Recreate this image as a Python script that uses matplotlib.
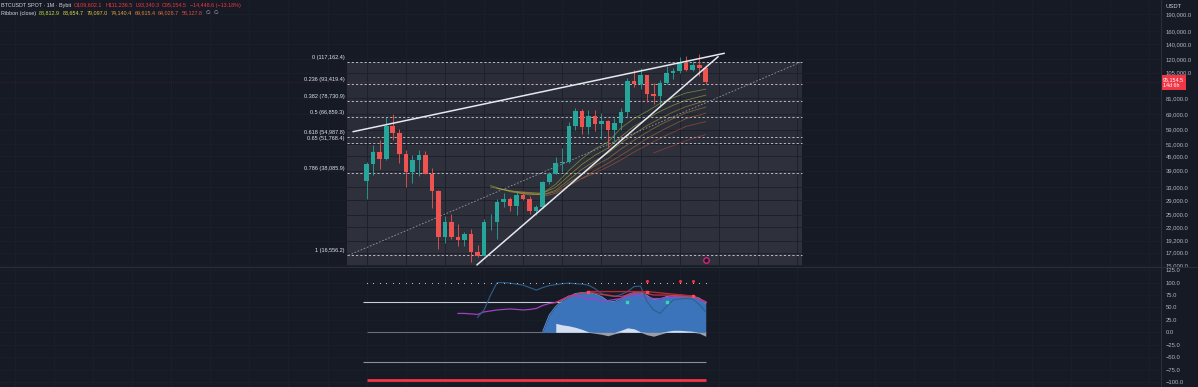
import matplotlib.pyplot as plt
from matplotlib.lines import Line2D
from matplotlib.ticker import NullLocator

plt.rcParams['font.family'] = ['Liberation Sans', 'DejaVu Sans']

# ---- BTCUSDT monthly candles, Jul 2021 .. Nov 2025 (index 0..52)
opens = [35000, 41500, 47100, 43800, 61300, 57000, 46200, 38500, 43200, 45500,
         37600, 31800, 19900, 23300, 20000, 19400, 20500, 17200, 16500, 23130,
         23150, 28500, 29200, 27200, 30500, 29200, 26000, 27000, 34600, 37700,
         42300, 42600, 61100, 71300, 60600, 67500, 62700, 64600, 59000, 63300,
         70200, 96400, 93400, 102400, 84300, 82500, 94200, 104600, 107100, 115700,
         108200, 114000, 109602.1]
highs = [42400, 50500, 52900, 67000, 69000, 59100, 47900, 45800, 48200, 47400,
         40000, 31900, 24700, 25200, 22800, 21000, 21500, 18400, 23900, 25200,
         29200, 31000, 29800, 31400, 31800, 30200, 27500, 35000, 38400, 44700,
         48900, 64000, 73800, 72800, 71900, 71900, 70000, 65100, 66500, 73600,
         99800, 108300, 109600, 102700, 95000, 97900, 111900, 110500, 123200, 124400,
         117900, 126200, 111236.5]
lows = [29300, 37300, 39600, 43300, 53300, 42000, 32900, 34300, 37100, 37500,
        26700, 17600, 18800, 19500, 18200, 18100, 15500, 16300, 16500, 21400,
        19600, 26900, 25900, 24800, 28900, 25200, 24900, 26600, 34100, 37600,
        38500, 41900, 59000, 56500, 56600, 58400, 53500, 49000, 52600, 58900,
        66800, 90500, 89200, 78200, 76600, 74400, 93400, 98200, 105100, 107300,
        107300, 102000, 93340.3]
closes = [41500, 47100, 43800, 61300, 57000, 46200, 38500, 43200, 45500, 37600,
          31800, 19900, 23300, 20000, 19400, 20500, 17200, 16500, 23130, 23150,
          28500, 29200, 27200, 30500, 29200, 26000, 27000, 34600, 37700, 42300,
          42600, 61100, 71300, 60600, 67500, 62700, 64600, 59000, 63300, 70200,
          96400, 93400, 102400, 84300, 82500, 94200, 104600, 107100, 115700, 108200,
          114000, 109603.1, 95154.5]
last_price = 95154.5
countdown = "14d 6h"

# ---- fib retracement (levels, prices as labelled), anchored by candle index
fib_ratios = ["0", "0.236", "0.382", "0.5", "0.618", "0.65", "0.786", "1"]
fib_prices = [117162.4, 93419.4, 78730.9, 66859.3, 54987.8, 51768.4, 38085.9, 16556.2]
fib_start, fib_end = -3.0, 66.8

# ---- trend lines (index, price)
wedge_top = [(-2.1, 57800), (54.85, 127700)]
wedge_bottom = [(16.9, 15020), (53.9, 123400)]
fib_diag = [(-2.8, 16556.2), (66.7, 117162.4)]

# ---- ribbon (close) lines
ribbon = [
    [(19, 33500), (22, 31500), (25, 30500), (27, 31000), (29, 34000), (31, 39000), (33, 44000),
     (35, 48500), (37, 52000), (39, 60000), (41, 66000), (43, 71000), (45, 77000), (47, 81500),
     (49, 85500), (52, 88812.9)],
    [(19, 33000), (23, 31500), (27, 31000), (29, 33000), (31, 37000), (33, 41500), (35, 45500),
     (37, 49000), (39, 55000), (41, 61000), (43, 66000), (45, 71000), (47, 75500), (49, 79500),
     (52, 83654.7)],
    [(20, 32500), (24, 31000), (27, 30500), (29, 32000), (31, 35500), (33, 39500), (35, 43000),
     (37, 46500), (39, 51500), (41, 56500), (43, 61500), (45, 66000), (47, 70500), (49, 74500),
     (52, 79097.0)],
    [(23, 31500), (27, 30500), (29, 31500), (31, 34500), (33, 37500), (35, 41000), (37, 44000),
     (39, 48500), (41, 53000), (43, 57500), (45, 62000), (47, 66000), (49, 70000), (52, 74140.4)],
    [(27, 30000), (29, 31000), (31, 33500), (33, 36000), (35, 39000), (37, 42000), (39, 45500),
     (41, 49500), (43, 54000), (45, 58000), (47, 62000), (49, 66000), (52, 69615.4)],
    [(33, 36000), (35, 38000), (37, 40500), (39, 43500), (41, 47000), (43, 50500), (45, 54000),
     (47, 57500), (49, 61000), (52, 64028.7)],
    [(44, 46600), (46, 49000), (48, 51500), (50, 54000), (52, 56127.8)],
]
ribbon_colors = ['#c5e03a', '#dedc46', '#e2c23e', '#e2a23e', '#e2843e', '#e2663e', '#e24a3e']
ribbon_labels = ["88,812.9", "83,654.7", "79,097.0", "74,140.4", "69,615.4", "64,028.7", "56,127.8"]
event_mark = (52, 15790)

price_ticks = [190000, 160000, 140000, 120000, 105000, 81000, 69000, 59000, 51000, 45000,
               39000, 33000, 29000, 25000, 22000, 19200, 17000, 15000]

# ---- VMC Cipher B pane
wt_idx = list(range(27, 53))
wt_vals = [2, 35, 52, 64, 72, 78, 80, 80, 77, 72, 63, 62, 68, 76, 80, 80, 74, 66, 67, 72,
           74, 75, 74, 73, 69, 58]
mf_idx = list(range(29, 53))
mf_vals = [18, 15, 13, 10, 6, 1, -2, -4, -7, -3, 4, 9, 7, 1, -5, -8, -4, 2, 4, 4, 3, 2, -2, -8]
rsi_idx = list(range(14, 53))
rsi_vals = [38, 38, 37, 36, 41, 43, 45, 46, 47, 46, 45, 46, 48, 54, 58, 60, 66, 73, 74, 70,
            67, 66, 64, 64, 66, 68, 72, 75, 74, 70, 68, 68, 70, 71, 72, 73, 72, 66, 60]
stoch_idx = list(range(29, 53))
stoch_vals = [60, 66, 72, 76, 79, 81, 79, 76, 75, 73, 72, 75, 79, 81, 78, 75, 75, 75, 74, 73,
              72, 72, 68, 62]
wt2_idx = list(range(17, 53))
wt2_vals = [30, 45, 75, 100, 100, 99, 97, 95, 90, 85, 90, 94, 96, 98, 99, 98, 97, 95, 88, 78,
            74, 72, 76, 82, 92, 93, 62, 45, 38, 52, 65, 67, 68, 67, 56, 41]
div_pts = [(34, 82), (43, 82), (50, 73)]
buy_pts = [(40, 61), (46, 62)]
sell_dots = [43, 48, 50]
osc_ticks = [125, 100, 75, 50, 25, 0, -25, -50, -75, -100]

BG = '#161a25'
GRID = '#1b1f2a'
TXT = '#b2b5be'
UP, DOWN = '#26a69a', '#ef5350'
W, H = 1198, 387

fig = plt.figure(figsize=(W / 100, H / 100), dpi=100, facecolor=BG)
ax = fig.add_axes([0, 121 / H, 1160 / W, 266 / H], facecolor=BG)
sub = fig.add_axes([0, 0, 1160 / W, 120 / H], facecolor=BG)

xlim = (-56.24, 121.67)
vgrid = list(range(-54, 122, 6))
for a in (ax, sub):
    a.set_xlim(*xlim)
    for s in a.spines.values():
        s.set_visible(False)
    a.set_xticks(vgrid)
    a.tick_params(axis='x', length=0, labelbottom=False)
    a.yaxis.tick_right()
    a.tick_params(axis='y', length=0, pad=4, labelsize=4.2, labelcolor=TXT)
    a.grid(True, color=GRID, lw=0.6, zorder=0)
    a.set_axisbelow(True)

# main pane
ax.set_yscale('log')
ax.set_ylim(14860, 218900)
ax.yaxis.set_minor_locator(NullLocator())
ax.set_yticks(price_ticks)
ax.set_yticklabels([f"{p:,.1f}" for p in price_ticks])

ybot = ax.get_ylim()[0]
ax.fill_between([fib_start, fib_end], fib_prices[5], fib_prices[0], color='#2a2d38', lw=0, zorder=0.5)
ax.fill_between([fib_start, fib_end], ybot, fib_prices[5], color='#2e313c', lw=0, zorder=0.5)
for r, p in zip(fib_ratios, fib_prices):
    ax.plot([fib_start, fib_end], [p, p], color='#b8bbc4', lw=0.7, ls=(0, (2.2, 2.2)), zorder=1)
    ax.annotate(f"{r} ({p:,.1f})", xy=(fib_start, p), xytext=(-2, 3.2), textcoords='offset points',
                ha='right', va='center', fontsize=4, color='#e0e3eb', annotation_clip=False)

for pts, c in zip(ribbon, ribbon_colors):
    ax.plot([q[0] for q in pts], [q[1] for q in pts], color=c, lw=0.6, alpha=0.45, zorder=2)

ax.plot([q[0] for q in fib_diag], [q[1] for q in fib_diag], color='#9598a1', lw=0.6,
        ls=(0, (2, 2)), zorder=2)

idx = list(range(len(closes)))
for i in idx:
    o, h, l, c = opens[i], highs[i], lows[i], closes[i]
    col = UP if c >= o else DOWN
    ax.vlines(i, l, h, color=col, lw=0.6, zorder=3)
    ax.bar(i, abs(c - o), bottom=min(o, c), width=0.7, color=col, lw=0, zorder=3)

for ln in (wedge_top, wedge_bottom):
    ax.plot([q[0] for q in ln], [q[1] for q in ln], color='#e6e8ee', lw=1.1, zorder=4,
            solid_capstyle='round')

ax.axhline(last_price, color='#f23645', lw=0.5, alpha=0.3, ls=(0, (1, 2)), zorder=1)
ax.scatter([event_mark[0]], [event_mark[1]], s=16, facecolor='#2a1430', edgecolor='#e0287a',
           lw=0.9, zorder=5)
ax.annotate(f"{last_price:,.1f}\n{countdown}", xy=(1, last_price), xycoords=('axes fraction', 'data'),
            xytext=(2.2, 0), textcoords='offset points', ha='left', va='center', fontsize=3.9,
            color='white', linespacing=1.25, annotation_clip=False,
            bbox=dict(boxstyle='square,pad=0.35', fc='#f23645', ec='none'))

# oscillator pane
sub.set_ylim(-110.2, 131.5)
sub.set_yticks(osc_ticks)
sub.set_yticklabels([f"{v:.1f}".replace('-', '\u2212') for v in osc_ticks])

sub.hlines(60, -0.5, 52, color='#c9ccd4', lw=0.8, zorder=2)
sub.hlines(0, 0, 52, color='#6b6f7a', lw=0.8, zorder=2)
sub.hlines(-60, -0.5, 52, color='#8b8f99', lw=0.8, zorder=2)
sub.hlines(-96, 0, 52, color='#f23645', lw=2.0, zorder=2)

sub.fill_between(wt_idx, 0, wt_vals, color='#3b74bb', lw=0, zorder=3)
sub.plot(wt_idx, wt_vals, color='#5a90d4', lw=0.7, zorder=3)
mf_pos = [max(v, 0) for v in mf_vals]
mf_neg = [min(v, 0) for v in mf_vals]
sub.fill_between(mf_idx, 0, mf_pos, color='#d3dff0', lw=0, zorder=4)
sub.fill_between(mf_idx, 0, mf_neg, color='#9a9ea8', lw=0, zorder=4)

sub.plot(rsi_idx, rsi_vals, color='#a23fc4', lw=0.9, zorder=5)
sub.plot(wt2_idx, wt2_vals, color='#2f5f8c', lw=0.8, zorder=5)
sub.plot(stoch_idx, stoch_vals, color='#d8384a', lw=0.9, alpha=0.85, zorder=6)
sub.plot([q[0] for q in div_pts], [q[1] for q in div_pts], color='#b02a3a', lw=1.0, zorder=6)
sub.scatter([q[0] for q in div_pts], [q[1] for q in div_pts], s=3, color='#ff4a5a', marker='s', zorder=7)
sub.scatter([q[0] for q in buy_pts], [q[1] for q in buy_pts], s=3, color='#35d7b0', marker='s', zorder=7)
sub.scatter(idx, [100] * len(idx), s=0.6, color='#d1d4dc', lw=0, zorder=7)
sub.scatter(sell_dots, [104] * len(sell_dots), s=5, color='#ff2a3a', lw=0, zorder=8)

# separators
fig.add_artist(Line2D([1160.5 / W] * 2, [0, 1], transform=fig.transFigure, color='#2a2e39', lw=0.8))
fig.add_artist(Line2D([0, 1], [120.5 / H] * 2, transform=fig.transFigure, color='#2a2e39', lw=0.8))


def text_row(x, y, pieces, size, gap=2.0):
    prev = None
    for s, c in pieces:
        if prev is None:
            prev = ax.annotate(s, xy=(x, y), xycoords='figure pixels', fontsize=size, color=c,
                               ha='left', va='center', annotation_clip=False)
        else:
            prev = ax.annotate(s, xy=(1, 0.5), xycoords=prev, xytext=(gap, 0),
                               textcoords='offset points', fontsize=size, color=c,
                               ha='left', va='center', annotation_clip=False)


RED = '#f23645'
text_row(1, H - 5, [("BTCUSDT SPOT \u00b7 1M \u00b7 Bybit", '#d1d4dc'), ("O109,602.1", RED),
                    ("H111,236.5", RED), ("L93,340.3", RED), ("C95,154.5", RED),
                    ("\u221214,448.6 (\u221213.18%)", RED)], 3.9)
text_row(1, H - 13, [("Ribbon (close)", '#d1d4dc')] + list(zip(ribbon_labels, ribbon_colors))
         + [("\u2205", TXT), ("\u2205", TXT)], 3.9)

vmc_title = ("VMC Cipher_B_Divergences (9, 12, hlc3, 3, 53, 60, 100, -53, -60, -75, 45, -65, 15, -40, "
             "60, 150, 2.5, close, 14, 30, 60, 60, 30, close, 14, 14, 3, 3, close, 10, 23, 50, 0.5, "
             "720, 0, 0, 0, 0, 0, 0, 60, 240, 0, 0, 240)")
WH, BL1, BL2, PU, NA = '#d1d4dc', '#2f6fbf', '#5b9cf6', '#ab47bc', '#b2b5be'
vmc_vals = [("0.0", WH), ("\u221295.0", BL1), ("\u221299.0", BL1), ("12.1", BL2), ("\u22129.8", WH),
            ("31.2", RED), ("\u2205", NA), ("71.2", RED), ("\u2205", NA), ("56.8", PU), ("\u2205", NA),
            ("\u2205", NA), ("17.7", BL2), ("13.1", PU)] + [("\u2205", NA)] * 6 + \
           [("60.0", WH), ("100.0", WH), ("\u221260.0", WH)] + [("\u2205", NA)] * 11 + \
           [("106.0", RED), ("\u2205", NA)]
text_row(1, H - 270, [(vmc_title, '#d1d4dc')] + vmc_vals, 3.3, gap=1.8)

ax.annotate("USDT", xy=(1165, H - 6), xycoords='figure pixels', fontsize=4.2, color='#d1d4dc',
            ha='left', va='center', annotation_clip=False)

fig.savefig('out.png', dpi=100, facecolor=BG)
